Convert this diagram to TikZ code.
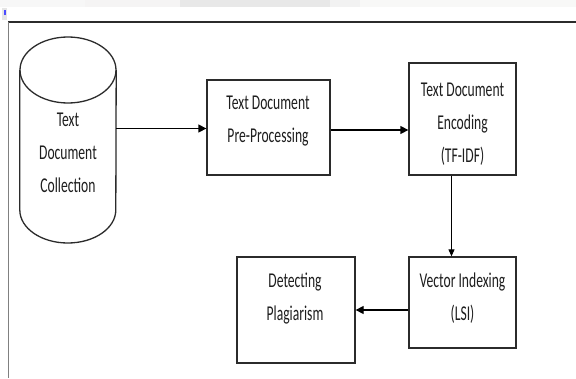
\documentclass[tikz,border=0pt]{standalone}
\usepackage{fontspec}
\usepackage{graphicx}
\setmainfont{Carlito}
\usetikzlibrary{arrows.meta}
\newcommand{\stxt}[1]{\scalebox{1}[1.55]{\fontsize{13.6}{21.3}\selectfont\begin{tabular}{@{}c@{}}#1\end{tabular}}}
\definecolor{edge}{HTML}{2B2B2B}
\definecolor{ink}{HTML}{1E1E1E}
\begin{document}
\begin{tikzpicture}[x=1pt,y=-1pt,
  box/.style={draw=edge, line width=1.3pt, inner sep=0pt},
  txt/.style={inner sep=0pt, text=ink},
  arr/.style={draw=black, line width=1.3pt, -{Triangle[length=8pt,width=8pt]}},
  varr/.style={draw=black, line width=1pt, -{Triangle[length=7pt,width=6pt]}}]
\useasboundingbox (0,0) rectangle (576,378);
% faint top band
\fill[white] (0,0) rectangle (576,378);
\fill[black!3] (0,0) rectangle (85,7);
\fill[yellow!6!black!5] (85,0) rectangle (180,7);
\fill[black!9] (180,0) rectangle (330,7);
\fill[black!5] (330,0) rectangle (360,7);
\fill[orange!12!black!3] (360,0) rectangle (576,7);
% small icon
\fill[black!10] (2,8) rectangle (7,20);
\fill[blue!70] (3.5,10) rectangle (5.5,15);
% frame
\draw[edge, line width=1.2pt] (8,22) -- (576,22);
\draw[black!50, line width=1.6pt] (8.5,22) -- (8.5,378);
% nodes
\node[minimum width=96pt, minimum height=207pt, inner sep=0pt] (cyl) at (68,139.5) {};
\draw[edge, line width=1.3pt] (68,70) ellipse[x radius=48, y radius=33];
\draw[edge, line width=1.3pt] (cyl.north west |- 0,70) -- (cyl.north west |- 0,210)
  arc[start angle=180, end angle=0, x radius=48, y radius=33]
  -- (cyl.north east |- 0,70);
\node[txt] (tcyl) at (68,152.5) {\stxt{Text\\Document\\Collection}};

\node[box, minimum width=123pt, minimum height=95pt] (b2) at (268.5,127.5) {};
\node[txt] (t2) at (268,119) {\stxt{Text Document\\Pre-Processing}};

\node[box, minimum width=107pt, minimum height=112pt] (b3) at (462.5,119) {};
\node[txt] (t3) at (462.5,122.7) {\stxt{Text Document\\Encoding\\(TF-IDF)}};

\node[box, minimum width=107pt, minimum height=91pt] (b4) at (462.5,302.5) {};
\node[txt] (t4) at (462.5,297.5) {\stxt{Vector Indexing\\(LSI)}};

\node[box, minimum width=118pt, minimum height=106pt] (b5) at (296,310) {};
\node[txt] (t5) at (295,297) {\stxt{Detecting\\Plagiarism}};

% connectors
\coordinate (a1) at ([yshift=-1pt]b2.west);
\draw[arr] (cyl.east |- a1) -- (a1);
\coordinate (a2) at ([yshift=-2.5pt]b2.east);
\draw[arr] (a2) -- (a2 -| b3.west);
\coordinate (a3) at ([xshift=-11pt]b3.south);
\draw[varr] (a3) -- (a3 |- b4.north);
\coordinate (a4) at ([yshift=-7.5pt]b4.west);
\draw[arr] (a4) -- (a4 -| b5.east);
\end{tikzpicture}
\end{document}
